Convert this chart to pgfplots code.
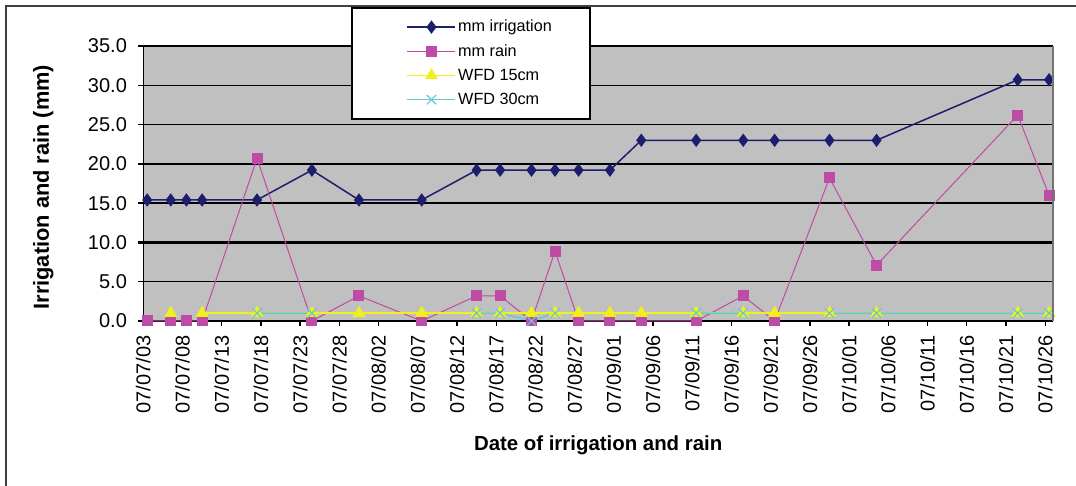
\documentclass[border=0pt]{standalone}
\usepackage{fontspec}
\setmainfont{Liberation Sans}
\usepackage{pgfplots}
\pgfplotsset{compat=1.18}

\definecolor{irrblue}{RGB}{30,30,110}
\definecolor{rainpink}{RGB}{190,75,165}
\definecolor{wfdyellow}{RGB}{240,240,30}
\definecolor{wfdcyan}{RGB}{100,200,215}
\definecolor{plotgray}{RGB}{192,192,192}

\begin{document}
\begin{tikzpicture}
\useasboundingbox (0,0) rectangle (538pt,243pt);
% outer chart frame (top and left edges)
\draw[line width=1pt, black!75] (3pt,0) -- (3pt,240pt) -- (538pt,240pt);
\begin{axis}[
  at={(71.65pt,82.5pt)}, anchor=south west,
  scale only axis, width=454.85pt, height=137.5pt,
  clip=false,
  unbounded coords=jump,
  xmin=-0.5, xmax=115.5, ymin=0, ymax=35,
  axis background/.style={fill=plotgray},
  axis x line*=bottom, axis y line*=left,
  axis line style={-, black, line width=0.65pt},
  tick align=outside,
  major tick length=2.5pt,
  tick style={black, line width=0.65pt},
  ymajorgrids,
  major grid style={black, line width=0.65pt},
  extra y ticks={10},
  extra y tick labels={},
  extra y tick style={major grid style={black, line width=1.35pt}, tick style={line width=1.2pt}},
  xtick={-0.5,4.5,9.5,14.5,19.5,24.5,29.5,34.5,39.5,44.5,49.5,54.5,59.5,64.5,69.5,74.5,79.5,84.5,89.5,94.5,99.5,104.5,109.5,114.5},
  xticklabels={07/07/03,07/07/08,07/07/13,07/07/18,07/07/23,07/07/28,07/08/02,07/08/07,07/08/12,07/08/17,07/08/22,07/08/27,07/09/01,07/09/06,07/09/11,07/09/16,07/09/21,07/09/26,07/10/01,07/10/06,07/10/11,07/10/16,07/10/21,07/10/26},
  ytick={0,5,10,15,20,25,30,35},
  /pgf/number format/assume math mode=true,
  yticklabel style={/pgf/number format/fixed, /pgf/number format/fixed zerofill, /pgf/number format/precision=1, inner xsep=5.5pt},
  tick label style={font=\fontsize{10}{12}\selectfont},
  xticklabel style={rotate=90, anchor=east, inner sep=4.5pt},
  xlabel={Date of irrigation and rain},
  ylabel={Irrigation and rain (mm)},
  xlabel style={font=\bfseries\fontsize{10.2}{12}\selectfont, at={(axis description cs:0.5,-0.451)}, anchor=center},
  ylabel style={font=\bfseries\fontsize{10.9}{12}\selectfont, at={(axis description cs:-0.110,0.487)}, anchor=center},
  legend style={at={(axis description cs:0.228,1.143)}, anchor=north west,
    draw=black, line width=1pt, fill=white,
    inner xsep=18pt, inner ysep=4.3pt, row sep=1.3pt,
    font=\fontsize{8.1}{10}\selectfont,
    nodes={inner sep=1pt, text height=6.8pt, text depth=2pt}},
  legend cell align=left,
  legend image code/.code={\path (0pt,0pt);\draw[mark repeat=2,mark phase=2] plot coordinates {(9.5pt,0pt) (21.5pt,0pt) (33.5pt,0pt)};},
  after end axis/.code={\draw[black!55, line width=0.65pt] (rel axis cs:1,0) -- (rel axis cs:1,1);},
]

% irrigation applied (mm)
\addplot[irrblue, line width=0.75pt, mark=diamond*, mark size=2.75pt,
  mark options={fill=irrblue, draw=irrblue}] coordinates {
  (0,15.4) (3,15.4) (5,15.4) (7,15.4) (14,15.4) (21,19.2) (27,15.4)
  (35,15.4) (42,19.2) (45,19.2) (49,19.2) (52,19.2) (55,19.2) (59,19.2)
  (63,23.0) (70,23.0) (76,23.0) (80,23.0) (87,23.0) (93,23.0)
  (111,30.7) (115,30.7)};
\addlegendentry{mm irrigation}

% rainfall (mm)
\addplot[rainpink, line width=0.5pt, mark=square*, mark size=2.5pt,
  mark options={fill=rainpink, draw=rainpink}] coordinates {
  (0,0) (3,0) (5,0) (7,0) (14,20.7) (21,0) (27,3.2)
  (35,0) (42,3.2) (45,3.2) (49,0) (52,8.9) (55,0) (59,0)
  (63,0) (70,0) (76,3.2) (80,0) (87,18.2) (93,7.1)
  (111,26.2) (115,16.0)};
\addlegendentry{mm rain}

% wetting front detector, 15 cm
\addplot[wfdyellow, line width=0.75pt, mark=triangle*, mark size=3pt,
  mark options={fill=wfdyellow, draw=wfdyellow}] coordinates {
  (0,nan) (3,1) (5,nan) (7,1) (14,1) (21,1) (27,1)
  (35,1) (42,1) (45,1) (49,1) (52,1) (55,1) (59,1)
  (63,1) (70,1) (76,1) (80,1) (87,1) (93,1)
  (111,1) (115,1)};
\addlegendentry{WFD 15cm}

% wetting front detector, 30 cm
\addplot[wfdcyan, line width=0.75pt, mark=x, mark size=3.3pt,
  mark options={draw=wfdcyan, line width=0.6pt}] coordinates {
  (0,nan) (3,nan) (5,nan) (7,nan) (14,1) (21,1) (27,nan)
  (35,nan) (42,1) (45,1) (49,0) (52,1) (55,nan) (59,nan)
  (63,nan) (70,1) (76,1) (80,nan) (87,1) (93,1)
  (111,1) (115,1)};
\addlegendentry{WFD 30cm}

\end{axis}
\end{tikzpicture}
\end{document}
